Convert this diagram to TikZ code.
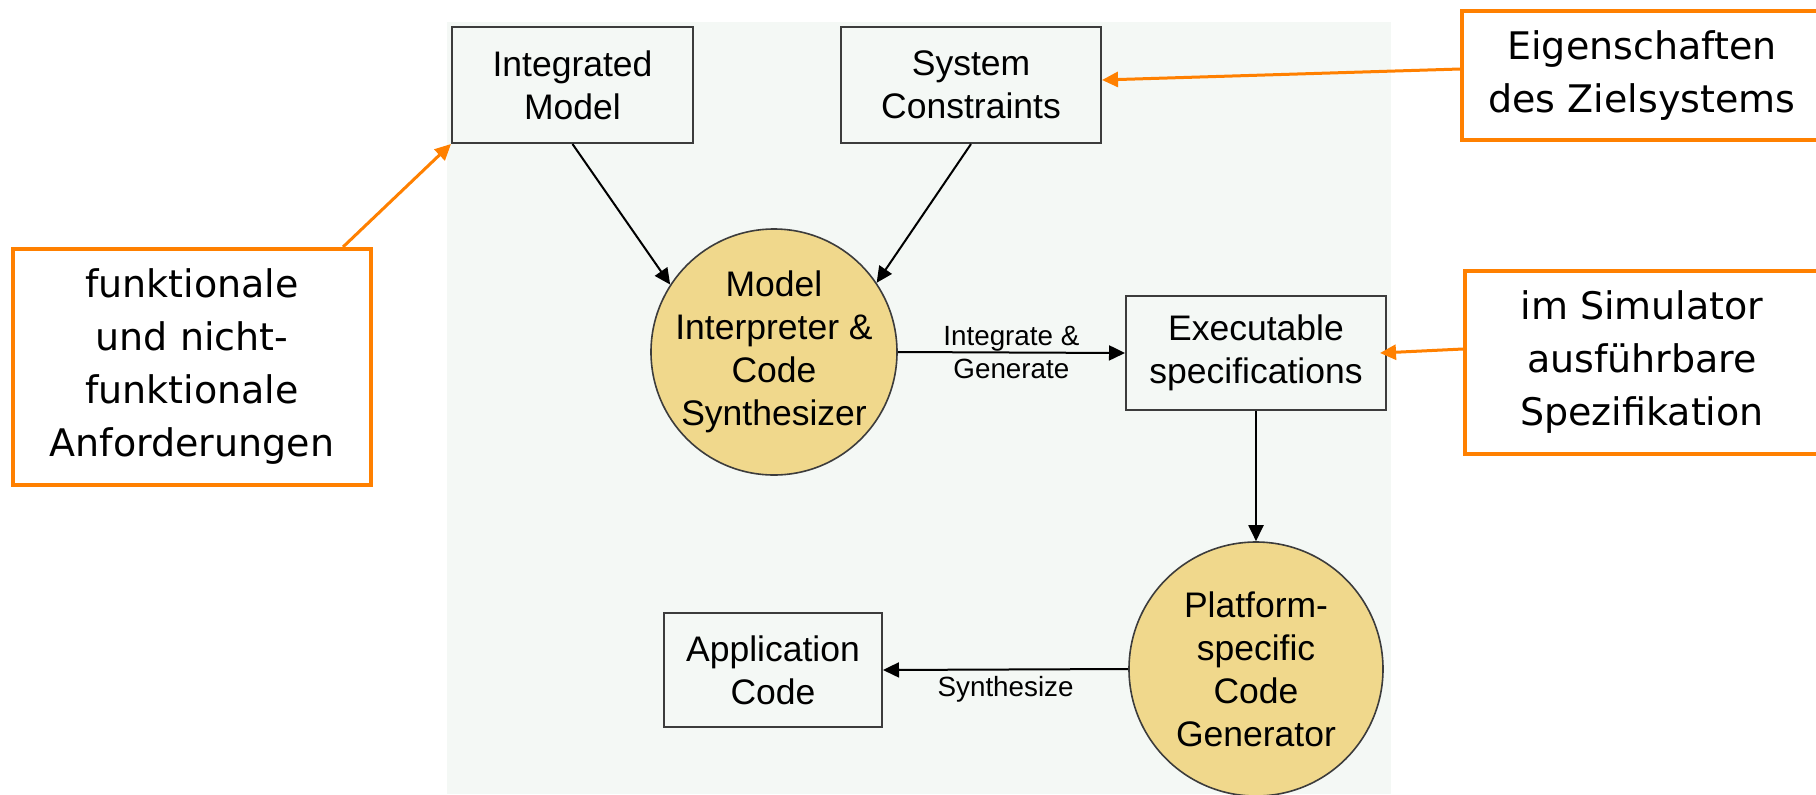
\documentclass[tikz,border=0pt]{standalone}
\usepackage{fontspec}
\setmainfont{Liberation Sans}
\newfontfamily\notefont{DejaVu Sans}
\usetikzlibrary{arrows.meta}
\definecolor{panelbg}{RGB}{244,248,245}
\definecolor{procfill}{RGB}{240,216,140}
\definecolor{noteorange}{RGB}{255,128,0}
\definecolor{boxline}{RGB}{60,60,60}

\begin{document}
\begin{tikzpicture}[x=0.5pt,y=0.5pt]
    \tikzstyle{every node}+=[inner sep=0pt]
    \tikzstyle{block}=[draw=boxline, line width=1pt, rectangle, align=center, font=\fontsize{17.75pt}{21.5pt}\selectfont]
    \tikzstyle{proc}=[draw=boxline, line width=0.8pt, circle, fill=procfill, inner sep=-6pt, align=center, font=\fontsize{17.75pt}{21.5pt}\selectfont]
    \tikzstyle{note}=[draw=noteorange, line width=2pt, fill=white, rectangle, align=center, font=\notefont\fontsize{19pt}{26.5pt}\selectfont]
    \tikzstyle{flow}=[black, line width=1pt, -{Triangle[length=8pt,width=7.5pt]}]
    \tikzstyle{hint}=[noteorange, line width=1.5pt, -{Triangle[length=8pt,width=7.5pt]}]
    \tikzstyle{tag}=[font=\fontsize{13.9pt}{16.5pt}\selectfont, align=center]
    \useasboundingbox (0,0) rectangle (1816,-794);
    \fill [panelbg] (447,-22) rectangle (1391,-794);
    \node [block, minimum width=120.5pt, minimum height=58pt] (intmodel) at (572.5,-85) {Integrated\\Model};
    \node [block, minimum width=130pt, minimum height=58pt] (syscons) at (971,-85) {System\\Constraints};
    \node [proc, minimum size=123pt] (interp) at (774,-352) {Model\\Interpreter \&\\Code\\Synthesizer};
    \node [block, minimum width=130pt, minimum height=57pt] (execspec) at (1256,-353) {Executable\\specifications};
    \node [proc, minimum size=127pt] (platform) at (1256,-669) {Platform-\\specific\\Code\\Generator};
    \node [block, minimum width=109pt, minimum height=57pt] (appcode) at (773,-670) {Application\\Code};
    \node [note, minimum width=179pt, minimum height=118pt] (funk) at (192,-367) {funktionale\\und nicht-\\funktionale\\Anforderungen};
    \node [note, minimum width=180pt, minimum height=64.5pt] (eigen) at (1642,-75.5) {Eigenschaften\\des Zielsystems};
    \node [note, minimum width=177pt, minimum height=91.5pt] (sim) at (1642,-362.5) {im Simulator\\ausführbare\\Spezifikation};
    \draw [flow] (intmodel.south) -- (interp.147);
    \draw [flow] (syscons.south) -- (interp.34);
    \draw [flow] (interp.east) -- node [tag, midway] (intgen) {Integrate \&\\Generate} (execspec.west);
    \draw [flow] (execspec.south) -- (platform.north);
    \draw [flow] (platform.west) -- node [tag, midway, below=3pt] (synth) {Synthesize} (appcode.east);
    \draw [hint] ([xshift=-15pt]funk.north east) -- (intmodel.south west);
    \draw [hint] ([yshift=3.25pt]eigen.west) -- ([yshift=2.5pt]syscons.east);
    \draw [hint] ([yshift=6.75pt]sim.west) -- ([xshift=-3.5pt]execspec.east);
\end{tikzpicture}
\end{document}
